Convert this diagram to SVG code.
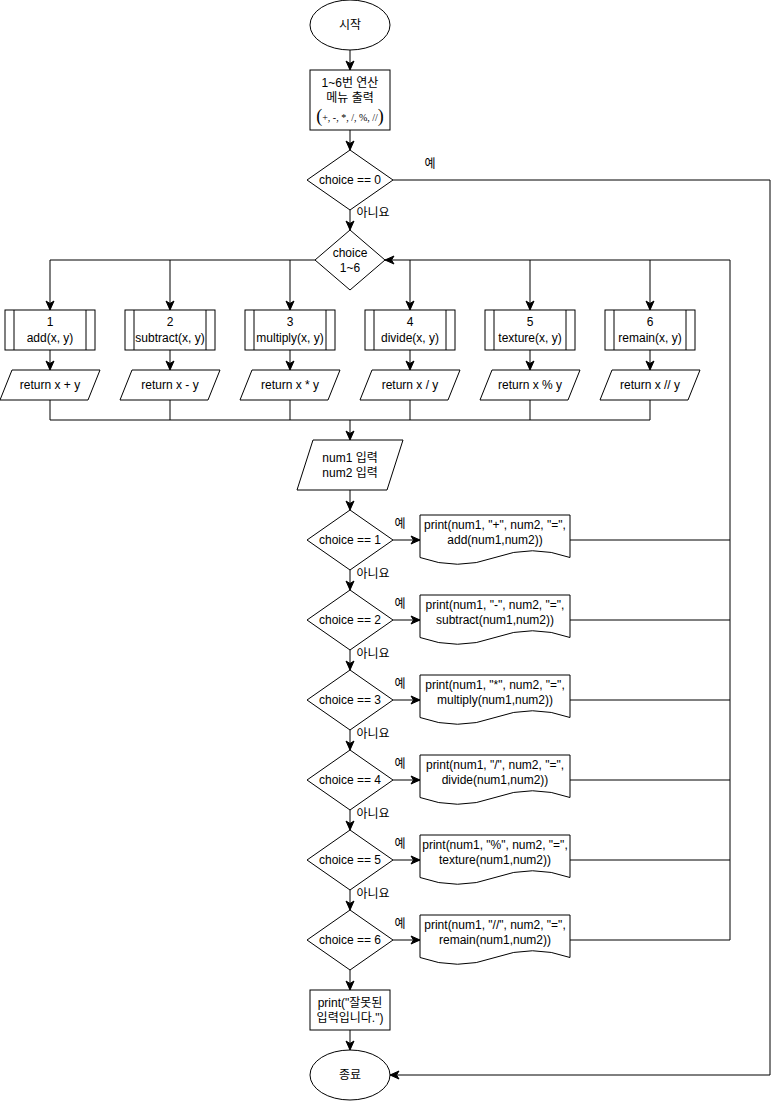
<svg xmlns="http://www.w3.org/2000/svg" width="782" height="1102" viewBox="0 0 782 1102">
<style>
.s{fill:#fff;stroke:#000;stroke-width:1}
.c{fill:none;stroke:#000;stroke-width:1}
.a{fill:none;stroke:#000;stroke-width:1;marker-end:url(#arr)}
text{font-family:"Liberation Sans","Noto Sans CJK KR",sans-serif;font-size:12px;fill:#000}
.m{text-anchor:middle}
.sf{font-family:"Liberation Serif",serif}
</style>
<defs>
<marker id="arr" markerUnits="userSpaceOnUse" markerWidth="10" markerHeight="10" viewBox="0 0 10 10" refX="10" refY="5" orient="auto">
<path d="M1,1 L10,5 L1,9 L3.5,5 z" fill="#000" stroke="#000" stroke-width="1"/>
</marker>
</defs>
<rect width="782" height="1102" fill="#fff"/>

<g id="connectors">
<line class="a" x1="350" y1="50" x2="350" y2="70"/>
<line class="a" x1="350" y1="130" x2="350" y2="150"/>
<polyline class="a" points="393,180 770,180 770,1075 390,1075"/>
<line class="a" x1="350" y1="210" x2="350" y2="230"/>
<polyline class="c" points="315,260 50,260"/>
<line class="a" x1="50" y1="260" x2="50" y2="310"/>
<line class="a" x1="170" y1="260" x2="170" y2="310"/>
<line class="a" x1="290" y1="260" x2="290" y2="310"/>
<line class="a" x1="410" y1="260" x2="410" y2="310"/>
<line class="a" x1="530" y1="260" x2="530" y2="310"/>
<line class="a" x1="650" y1="260" x2="650" y2="310"/>
<polyline class="a" points="730,260 385,260"/>
<line class="c" x1="730" y1="260" x2="730" y2="940"/>
<line class="a" x1="50" y1="350" x2="50" y2="370"/>
<line class="a" x1="170" y1="350" x2="170" y2="370"/>
<line class="a" x1="290" y1="350" x2="290" y2="370"/>
<line class="a" x1="410" y1="350" x2="410" y2="370"/>
<line class="a" x1="530" y1="350" x2="530" y2="370"/>
<line class="a" x1="650" y1="350" x2="650" y2="370"/>
<polyline class="c" points="50,400 50,420 650,420 650,400"/>
<line class="c" x1="170" y1="400" x2="170" y2="420"/>
<line class="c" x1="290" y1="400" x2="290" y2="420"/>
<line class="c" x1="410" y1="400" x2="410" y2="420"/>
<line class="c" x1="530" y1="400" x2="530" y2="420"/>
<line class="a" x1="350" y1="420" x2="350" y2="440"/>
<line class="a" x1="350" y1="490" x2="350" y2="510"/>
<line class="a" x1="393" y1="540" x2="420" y2="540"/>
<line class="a" x1="393" y1="620" x2="420" y2="620"/>
<line class="a" x1="393" y1="700" x2="420" y2="700"/>
<line class="a" x1="393" y1="780" x2="420" y2="780"/>
<line class="a" x1="393" y1="860" x2="420" y2="860"/>
<line class="a" x1="393" y1="940" x2="420" y2="940"/>
<line class="c" x1="570" y1="540" x2="730" y2="540"/>
<line class="c" x1="570" y1="620" x2="730" y2="620"/>
<line class="c" x1="570" y1="700" x2="730" y2="700"/>
<line class="c" x1="570" y1="780" x2="730" y2="780"/>
<line class="c" x1="570" y1="860" x2="730" y2="860"/>
<line class="c" x1="570" y1="940" x2="730" y2="940"/>
<line class="a" x1="350" y1="570" x2="350" y2="590"/>
<line class="a" x1="350" y1="650" x2="350" y2="670"/>
<line class="a" x1="350" y1="730" x2="350" y2="750"/>
<line class="a" x1="350" y1="810" x2="350" y2="830"/>
<line class="a" x1="350" y1="890" x2="350" y2="910"/>
<line class="a" x1="350" y1="970" x2="350" y2="990"/>
<line class="a" x1="350" y1="1030" x2="350" y2="1050"/>
<text x="430" y="168" class="m">예</text>
<text x="373" y="217" class="m">아니요</text>
<text x="400" y="528" class="m">예</text>
<text x="400" y="608" class="m">예</text>
<text x="400" y="688" class="m">예</text>
<text x="400" y="768" class="m">예</text>
<text x="400" y="848" class="m">예</text>
<text x="400" y="928" class="m">예</text>
<text x="373" y="578" class="m">아니요</text>
<text x="373" y="658" class="m">아니요</text>
<text x="373" y="738" class="m">아니요</text>
<text x="373" y="818" class="m">아니요</text>
<text x="373" y="898" class="m">아니요</text>
</g>

<g id="start">
<ellipse class="s" cx="350" cy="25" rx="40" ry="25"/>
<text x="350" y="29" class="m">시작</text>
</g>

<g id="menu">
<rect class="s" x="310" y="70" width="80" height="60"/>
<text x="350" y="87" class="m">1~6번 연산</text>
<text x="350" y="102" class="m">메뉴 출력</text>
<text x="350" y="122" class="m sf"><tspan font-size="18">(</tspan><tspan font-size="10" dy="-1">+, -, *, /, %, //</tspan><tspan font-size="18" dy="1">)</tspan></text>
</g>

<g id="choice0">
<polygon class="s" points="350,150 393,180 350,210 307,180"/>
<text x="350" y="184" class="m">choice == 0</text>
</g>

<g id="choice16">
<polygon class="s" points="350,230 385,260 350,290 315,260"/>
<text x="350" y="257" class="m">choice</text>
<text x="350" y="272" class="m">1~6</text>
</g>

<g id="func1">
<rect class="s" x="5" y="310" width="90" height="40"/><line class="c" x1="14" y1="310" x2="14" y2="350"/><line class="c" x1="86" y1="310" x2="86" y2="350"/>
<text x="50" y="326" class="m">1</text><text x="50" y="342" class="m">add(x, y)</text>
</g>
<g id="func2">
<rect class="s" x="125" y="310" width="90" height="40"/><line class="c" x1="134" y1="310" x2="134" y2="350"/><line class="c" x1="206" y1="310" x2="206" y2="350"/>
<text x="170" y="326" class="m">2</text><text x="170" y="342" class="m">subtract(x, y)</text>
</g>
<g id="func3">
<rect class="s" x="245" y="310" width="90" height="40"/><line class="c" x1="254" y1="310" x2="254" y2="350"/><line class="c" x1="326" y1="310" x2="326" y2="350"/>
<text x="290" y="326" class="m">3</text><text x="290" y="342" class="m">multiply(x, y)</text>
</g>
<g id="func4">
<rect class="s" x="365" y="310" width="90" height="40"/><line class="c" x1="374" y1="310" x2="374" y2="350"/><line class="c" x1="446" y1="310" x2="446" y2="350"/>
<text x="410" y="326" class="m">4</text><text x="410" y="342" class="m">divide(x, y)</text>
</g>
<g id="func5">
<rect class="s" x="485" y="310" width="90" height="40"/><line class="c" x1="494" y1="310" x2="494" y2="350"/><line class="c" x1="566" y1="310" x2="566" y2="350"/>
<text x="530" y="326" class="m">5</text><text x="530" y="342" class="m">texture(x, y)</text>
</g>
<g id="func6">
<rect class="s" x="605" y="310" width="90" height="40"/><line class="c" x1="614" y1="310" x2="614" y2="350"/><line class="c" x1="686" y1="310" x2="686" y2="350"/>
<text x="650" y="326" class="m">6</text><text x="650" y="342" class="m">remain(x, y)</text>
</g>

<g id="ret1"><polygon class="s" points="12,370 100,370 88,400 0,400"/><text x="50" y="389" class="m">return x + y</text></g>
<g id="ret2"><polygon class="s" points="132,370 220,370 208,400 120,400"/><text x="170" y="389" class="m">return x - y</text></g>
<g id="ret3"><polygon class="s" points="252,370 340,370 328,400 240,400"/><text x="290" y="389" class="m">return x * y</text></g>
<g id="ret4"><polygon class="s" points="372,370 460,370 448,400 360,400"/><text x="410" y="389" class="m">return x / y</text></g>
<g id="ret5"><polygon class="s" points="492,370 580,370 568,400 480,400"/><text x="530" y="389" class="m">return x % y</text></g>
<g id="ret6"><polygon class="s" points="612,370 700,370 688,400 600,400"/><text x="650" y="389" class="m">return x // y</text></g>

<g id="input">
<polygon class="s" points="313,440 403,440 387,490 297,490"/>
<text x="350" y="462" class="m">num1 입력</text>
<text x="350" y="477" class="m">num2 입력</text>
</g>

<g id="choice1"><polygon class="s" points="350,510 393,540 350,570 307,540"/><text x="350" y="544" class="m">choice == 1</text></g>
<g id="choice2"><polygon class="s" points="350,590 393,620 350,650 307,620"/><text x="350" y="624" class="m">choice == 2</text></g>
<g id="choice3"><polygon class="s" points="350,670 393,700 350,730 307,700"/><text x="350" y="704" class="m">choice == 3</text></g>
<g id="choice4"><polygon class="s" points="350,750 393,780 350,810 307,780"/><text x="350" y="784" class="m">choice == 4</text></g>
<g id="choice5"><polygon class="s" points="350,830 393,860 350,890 307,860"/><text x="350" y="864" class="m">choice == 5</text></g>
<g id="choice6"><polygon class="s" points="350,910 393,940 350,970 307,940"/><text x="350" y="944" class="m">choice == 6</text></g>

<g id="print1"><path class="s" d="M420,515 H570 V557.5 Q532.5,544 495,557.5 Q457.5,571 420,557.5 Z"/><text x="495" y="529" class="m">print(num1, "+", num2, "=",</text><text x="495" y="544" class="m">add(num1,num2))</text></g>
<g id="print2"><path class="s" d="M420,595 H570 V637.5 Q532.5,624 495,637.5 Q457.5,651 420,637.5 Z"/><text x="495" y="609" class="m">print(num1, "-", num2, "=",</text><text x="495" y="624" class="m">subtract(num1,num2))</text></g>
<g id="print3"><path class="s" d="M420,675 H570 V717.5 Q532.5,704 495,717.5 Q457.5,731 420,717.5 Z"/><text x="495" y="689" class="m">print(num1, "*", num2, "=",</text><text x="495" y="704" class="m">multiply(num1,num2))</text></g>
<g id="print4"><path class="s" d="M420,755 H570 V797.5 Q532.5,784 495,797.5 Q457.5,811 420,797.5 Z"/><text x="495" y="769" class="m">print(num1, "/", num2, "=",</text><text x="495" y="784" class="m">divide(num1,num2))</text></g>
<g id="print5"><path class="s" d="M420,835 H570 V877.5 Q532.5,864 495,877.5 Q457.5,891 420,877.5 Z"/><text x="495" y="849" class="m">print(num1, "%", num2, "=",</text><text x="495" y="864" class="m">texture(num1,num2))</text></g>
<g id="print6"><path class="s" d="M420,915 H570 V957.5 Q532.5,944 495,957.5 Q457.5,971 420,957.5 Z"/><text x="495" y="929" class="m">print(num1, "//", num2, "=",</text><text x="495" y="944" class="m">remain(num1,num2))</text></g>

<g id="error">
<rect class="s" x="310" y="990" width="80" height="40"/>
<text x="350" y="1007" class="m">print("잘못된</text>
<text x="350" y="1022" class="m">입력입니다.")</text>
</g>

<g id="end">
<ellipse class="s" cx="350" cy="1075" rx="40" ry="25"/>
<text x="350" y="1079" class="m">종료</text>
</g>
</svg>
